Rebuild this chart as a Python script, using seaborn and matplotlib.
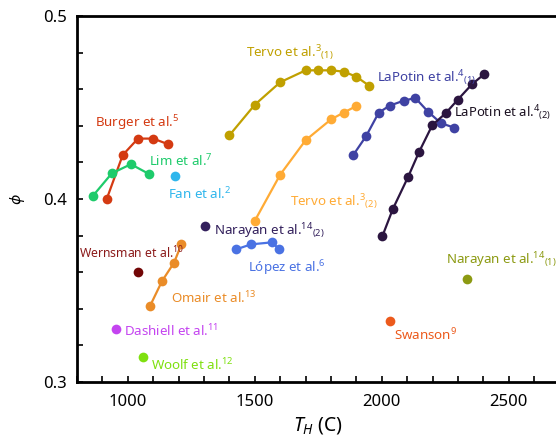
import numpy as np
import pandas as pd
import seaborn as sns
import matplotlib.pyplot as plt
from matplotlib.ticker import MultipleLocator

# data: hot-side temperature (C) vs efficiency phi
burger_T = [917, 980, 1040, 1100, 1157]
burger_phi = [0.400, 0.424, 0.433, 0.433, 0.430]
lim_T = [862, 937, 1012, 1083]
lim_phi = [0.4016, 0.414, 0.419, 0.4137]
fan_T = [1185]
fan_phi = [0.4126]
tervo1_T = [1400, 1500, 1600, 1700, 1750, 1800, 1850, 1900, 1950]
tervo1_phi = [0.4348, 0.4515, 0.4638, 0.4703, 0.4703, 0.4703, 0.4696, 0.4668, 0.4619]
tervo2_T = [1500, 1600, 1700, 1800, 1850, 1900]
tervo2_phi = [0.3881, 0.4133, 0.4321, 0.4435, 0.4472, 0.4508]
lapotin1_T = [1887, 1938, 1988, 2031, 2086, 2132, 2182, 2233, 2285]
lapotin1_phi = [0.4239, 0.4343, 0.4472, 0.4510, 0.4537, 0.4552, 0.4477, 0.4414, 0.4390]
lapotin2_T = [2002, 2044, 2103, 2146, 2199, 2251, 2298, 2355, 2404]
lapotin2_phi = [0.3796, 0.3947, 0.4119, 0.4255, 0.4404, 0.4468, 0.4541, 0.4627, 0.4683]
narayan2_T = [1304]
narayan2_phi = [0.3854]
lopez_T = [1427, 1485, 1567, 1597]
lopez_phi = [0.3725, 0.3752, 0.3763, 0.3725]
omair_T = [1088, 1135, 1182, 1211]
omair_phi = [0.3417, 0.3552, 0.3652, 0.3752]
wernsman_T = [1042]
wernsman_phi = [0.3600]
dashiell_T = [953]
dashiell_phi = [0.3291]
woolf_T = [1058]
woolf_phi = [0.3138]
narayan1_T = [2335]
narayan1_phi = [0.3565]
swanson_T = [2031]
swanson_phi = [0.3335]

series = {
    'burger': (burger_T, burger_phi, '#d43a12'),
    'lim': (lim_T, lim_phi, '#1ecb6b'),
    'fan': (fan_T, fan_phi, '#2fb6ec'),
    'tervo1': (tervo1_T, tervo1_phi, '#c0a000'),
    'tervo2': (tervo2_T, tervo2_phi, '#ffab35'),
    'lapotin1': (lapotin1_T, lapotin1_phi, '#3f42a3'),
    'lapotin2': (lapotin2_T, lapotin2_phi, '#2b1540'),
    'narayan2': (narayan2_T, narayan2_phi, '#33205c'),
    'lopez': (lopez_T, lopez_phi, '#4a72e3'),
    'omair': (omair_T, omair_phi, '#ea8c28'),
    'wernsman': (wernsman_T, wernsman_phi, '#720606'),
    'dashiell': (dashiell_T, dashiell_phi, '#c444f0'),
    'woolf': (woolf_T, woolf_phi, '#7fe010'),
    'narayan1': (narayan1_T, narayan1_phi, '#8c9a12'),
    'swanson': (swanson_T, swanson_phi, '#ec5a1c'),
}

rows = []
for name, (t, p, c) in series.items():
    for i in range(len(t)):
        rows.append({'study': name, 'T': t[i], 'phi': p[i]})
df = pd.DataFrame(rows)
palette = {k: v[2] for k, v in series.items()}

sns.set_style('ticks')
plt.rcParams['font.family'] = ['Noto Sans', 'DejaVu Sans']
plt.rcParams['mathtext.fontset'] = 'custom'
plt.rcParams['mathtext.rm'] = 'Noto Sans'
plt.rcParams['mathtext.it'] = 'Noto Sans:italic'

fig = plt.figure(figsize=(5.56, 4.45), dpi=100)
ax = fig.add_axes([0.1385, 0.1416, 0.868, 0.8225])

sns.lineplot(data=df, x='T', y='phi', hue='study', palette=palette, units='study',
             estimator=None, sort=False, marker='o', markersize=7, markeredgewidth=0,
             linewidth=1.6, legend=False, ax=ax)

# labels (left x, baseline y)
labels = [
    ('Burger et al.$^{5}$', 870, 0.4391, '#d43a12', 9.6),
    ('Lim et al.$^{7}$', 1083, 0.4180, '#1ecb6b', 9.6),
    ('Fan et al.$^{2}$', 1157, 0.4000, '#2fb6ec', 9.6),
    ('Tervo et al.$^{3}{}_{(1)}$', 1464, 0.4776, '#c0a000', 9.6),
    ('LaPotin et al.$^{4}{}_{(1)}$', 1983, 0.4639, '#3f42a3', 9.6),
    ('LaPotin et al.$^{4}{}_{(2)}$', 2285, 0.4448, '#1a1020', 9.4),
    ('Tervo et al.$^{3}{}_{(2)}$', 1637, 0.3962, '#ffab35', 9.6),
    ('Narayan et al.$^{14}{}_{(2)}$', 1338, 0.3803, '#33205c', 9.6),
    ('López et al.$^{6}$', 1472, 0.3601, '#4a72e3', 9.6),
    ('Wernsman et al.$^{10}$', 807, 0.3678, '#8b1a1a', 8.8),
    ('Omair et al.$^{13}$', 1169, 0.3432, '#ea8c28', 9.6),
    ('Dashiell et al.$^{11}$', 984, 0.3251, '#c444f0', 9.6),
    ('Woolf et al.$^{12}$', 1090, 0.3066, '#7fe010', 9.6),
    ('Narayan et al.$^{14}{}_{(1)}$', 2254, 0.3645, '#8c9a12', 9.6),
    ('Swanson$^{9}$', 2049, 0.3230, '#ec5a1c', 9.6),
]
for txt, x, y, c, fs in labels:
    ax.text(x, y, txt, color=c, fontsize=fs, ha='left', va='baseline', clip_on=False)

ax.set_xlim(800, 2700)
ax.set_ylim(0.3, 0.5)
ax.xaxis.set_minor_locator(MultipleLocator(100))
ax.yaxis.set_minor_locator(MultipleLocator(0.02))
ax.set_xticks([1000, 1500, 2000, 2500])
ax.set_xticklabels(['1000', '1500', '2000', '2500'])
ax.set_yticks([0.3, 0.4, 0.5])
ax.set_yticklabels(['0.3', '0.4', '0.5'])
ax.tick_params(which='both', direction='in', length=4, width=1.2, labelsize=12, colors='black')
ax.tick_params(axis='x', pad=9)
ax.tick_params(axis='y', pad=7)
for s in ax.spines.values():
    s.set_linewidth(2)
    s.set_color('black')

ax.set_xlabel('$T_H$ (C)', fontsize=14, labelpad=3, color='black')
ax.set_ylabel(r'$\phi$', fontsize=11, labelpad=12, color='black')

plt.savefig('out.png', dpi=100)
